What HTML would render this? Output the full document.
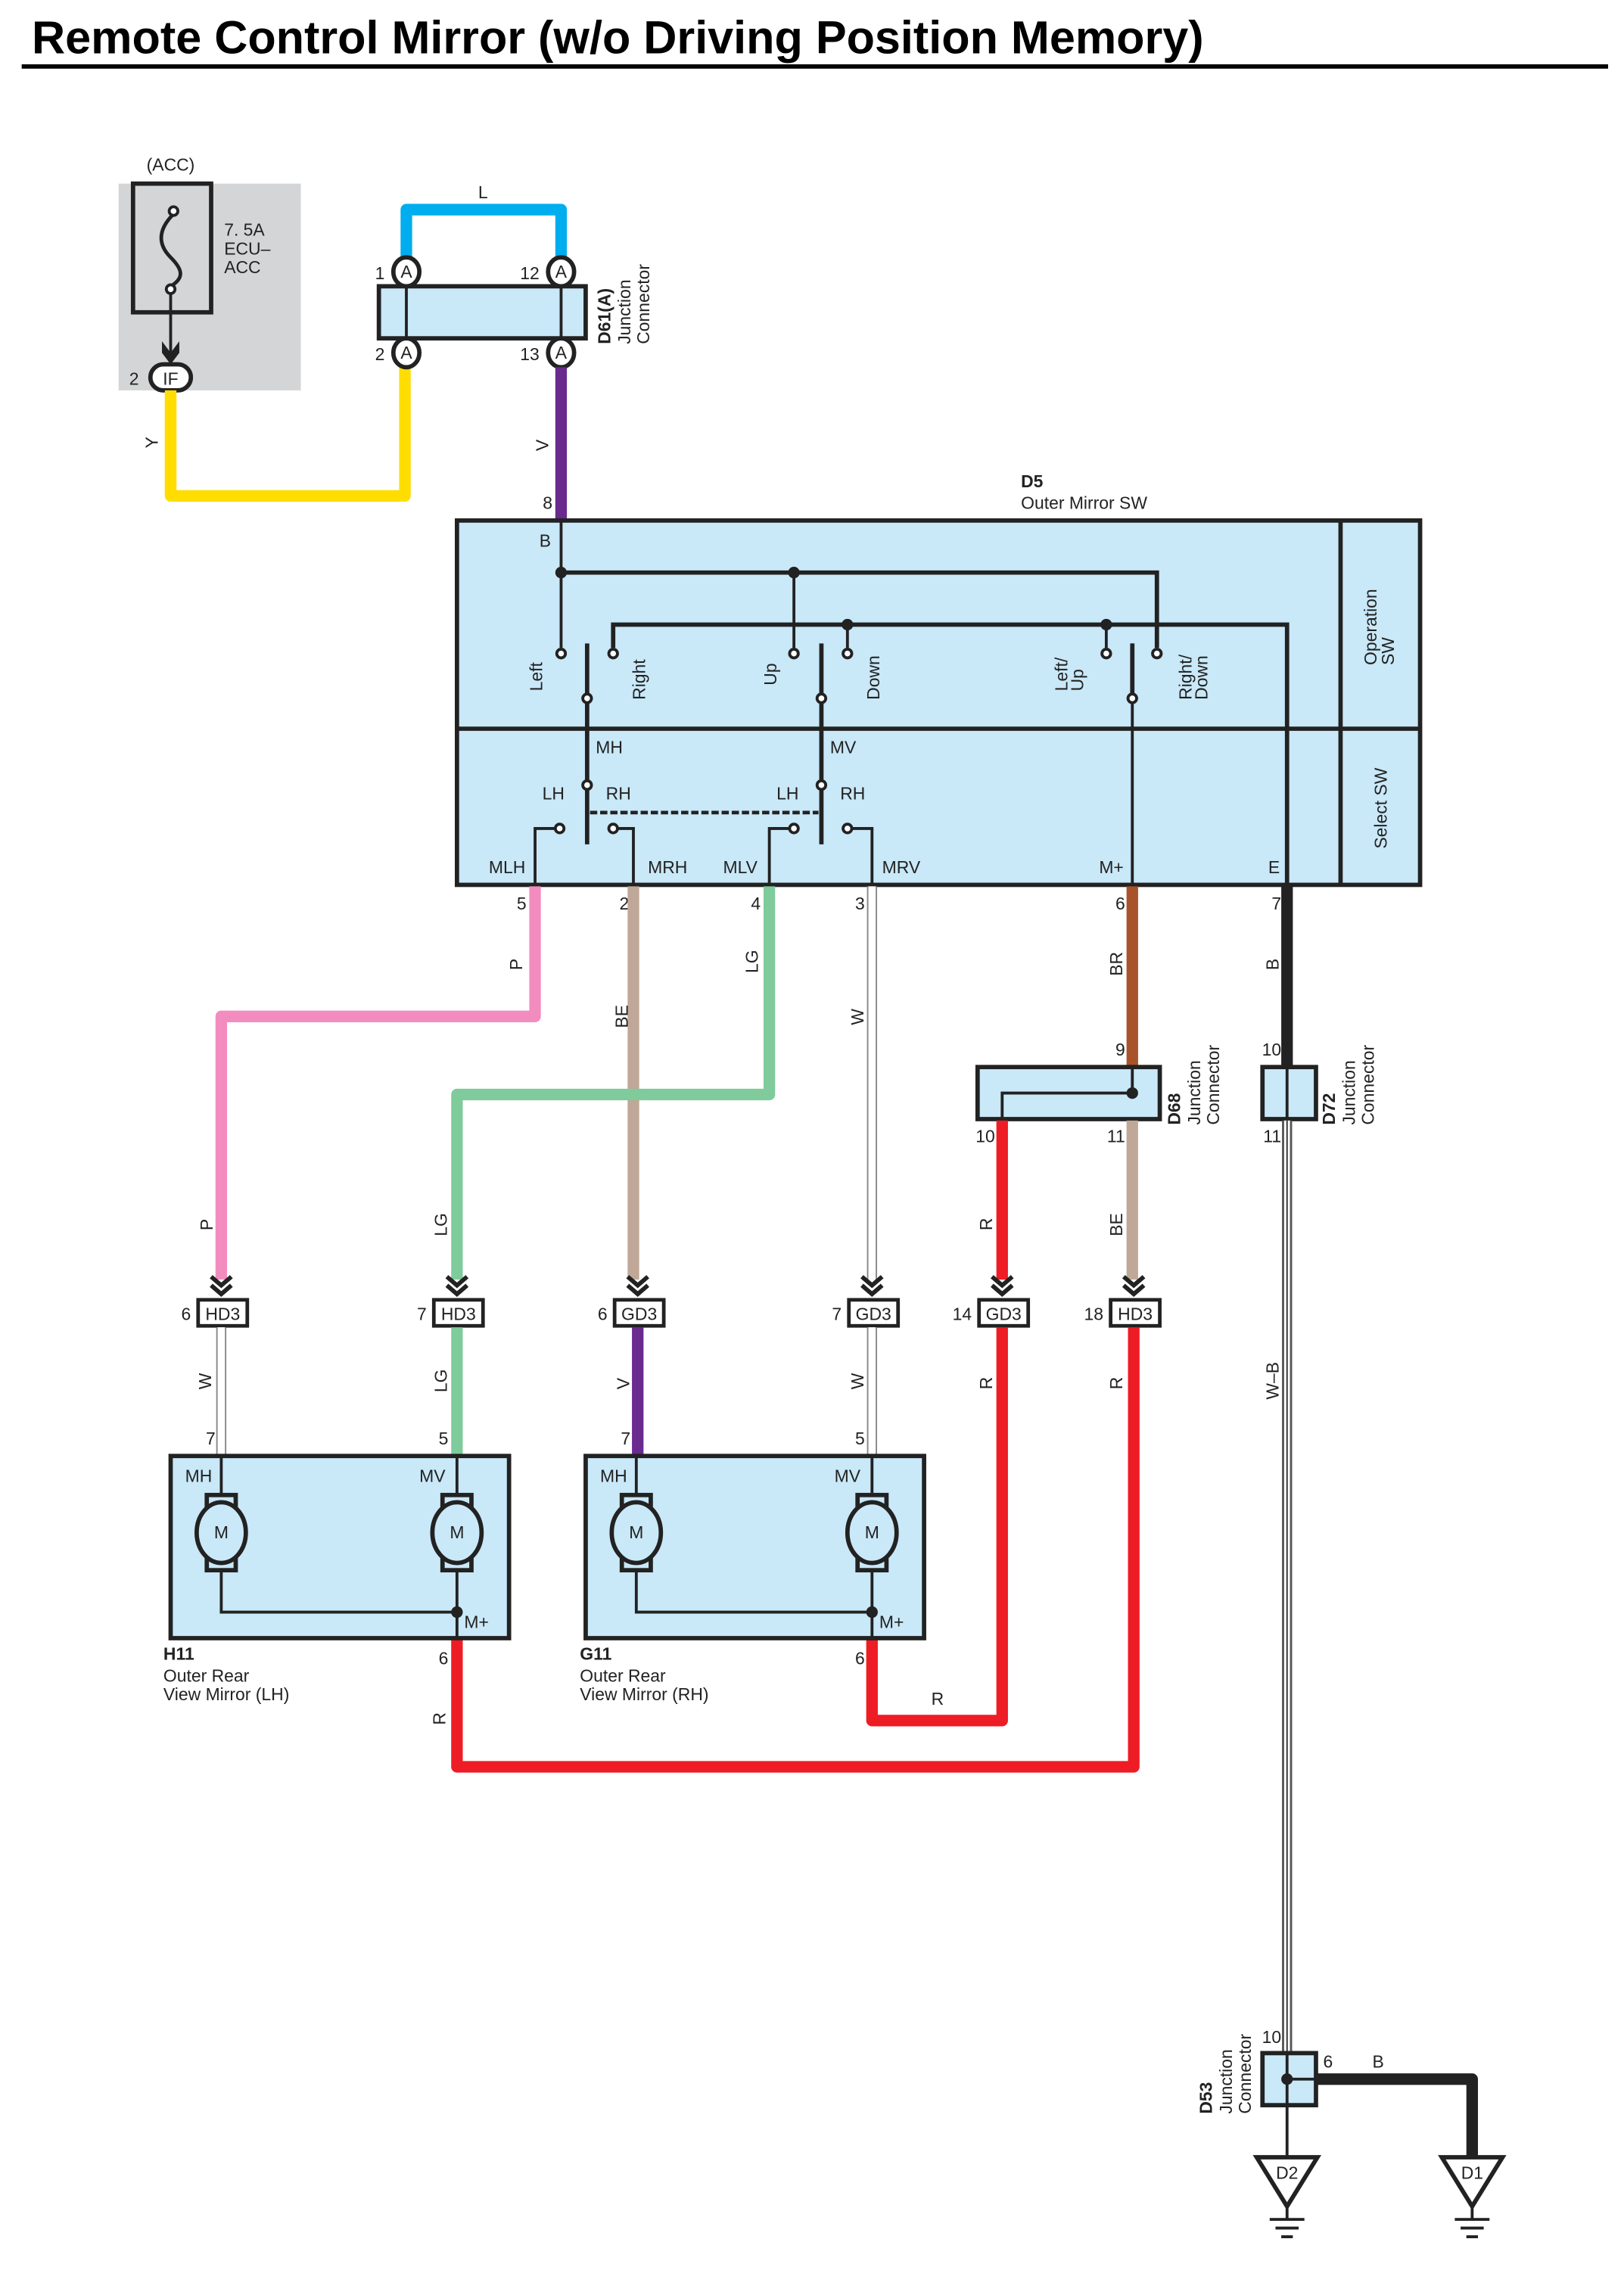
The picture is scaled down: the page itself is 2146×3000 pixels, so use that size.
<!DOCTYPE html>
<html><head><meta charset="utf-8"><style>
html,body{margin:0;padding:0;background:#fff}
svg{display:block}
text{font-family:"Liberation Sans",sans-serif;font-size:12px;fill:#222}
.b{font-weight:bold}
</style></head><body>
<svg width="2146" height="3000" viewBox="0 0 1123 1570" preserveAspectRatio="none" xmlns="http://www.w3.org/2000/svg">
<defs>
<g id="mot">
<rect x="-10" y="-26" width="20" height="10" fill="#c9e8f8" stroke="#222" stroke-width="3"/>
<rect x="-10" y="16" width="20" height="10" fill="#c9e8f8" stroke="#222" stroke-width="3"/>
<ellipse cx="0" cy="0" rx="17" ry="21" fill="#c9e8f8" stroke="#222" stroke-width="3"/>
<text x="0" y="4" text-anchor="middle" font-size="11">M</text>
</g>
<g id="chev"><path d="M-7,-14 L0,-8 L7,-14 M-7,-8 L0,-2 L7,-8" fill="none" stroke="#222" stroke-width="3"/></g>
</defs>
<text x="22" y="37" class="b" style="font-size:32px;fill:#000">Remote Control Mirror (w/o Driving Position Memory)</text>
<line x1="15" y1="46" x2="1112" y2="46" stroke="#000" stroke-width="3"/>

<!-- fuse -->
<rect x="82" y="127" width="126" height="143" fill="#d4d5d7"/>
<rect x="92" y="127" width="54" height="89" fill="none" stroke="#222" stroke-width="3"/>
<text x="118" y="118" text-anchor="middle">(ACC)</text>
<text x="155" y="163">7. 5A</text><text x="155" y="176">ECU–</text><text x="155" y="189">ACC</text>
<path d="M120,148 C108,160 110,170 118,178 C126,186 128,192 118,198" fill="none" stroke="#222" stroke-width="2.5"/>
<circle cx="120" cy="146" r="3" fill="#fff" stroke="#222" stroke-width="2"/>
<circle cx="118" cy="200" r="3" fill="#fff" stroke="#222" stroke-width="2"/>
<line x1="118" y1="203" x2="118" y2="248" stroke="#222" stroke-width="2"/>
<path d="M112,236 L118,244 L124,236 L124,244 L118,252 L112,244Z" fill="#222"/>
<path d="M118,343 L118,270" fill="none" stroke="#ffdd00" stroke-width="8"/>
<rect x="104" y="252" width="28" height="18" rx="9" fill="#fff" stroke="#222" stroke-width="3"/>
<text x="118" y="266" text-anchor="middle">IF</text><text x="96" y="266" text-anchor="end">2</text>
<path d="M118,270 L118,343 L280,343 L280,252" fill="none" stroke="#ffdd00" stroke-width="8" stroke-linejoin="round"/>
<text transform="translate(109,310) rotate(-90)">Y</text>

<!-- D61 -->
<path d="M281,180 L281,145 L388,145 L388,180" fill="none" stroke="#00adef" stroke-width="8" stroke-linejoin="round"/>
<text x="334" y="137" text-anchor="middle">L</text>
<rect x="262" y="198" width="143" height="36" fill="#c9e8f8" stroke="#222" stroke-width="3"/>
<line x1="281" y1="198" x2="281" y2="234" stroke="#222" stroke-width="2"/>
<line x1="388" y1="198" x2="388" y2="234" stroke="#222" stroke-width="2"/>
<g stroke="#222" stroke-width="3" fill="#fff">
<ellipse cx="281" cy="188" rx="9" ry="10"/><ellipse cx="388" cy="188" rx="9" ry="10"/>
<ellipse cx="281" cy="244" rx="9" ry="10"/><ellipse cx="388" cy="244" rx="9" ry="10"/></g>
<g text-anchor="middle" font-size="11"><text x="281" y="192">A</text><text x="388" y="192">A</text><text x="281" y="248">A</text><text x="388" y="248">A</text></g>
<text x="266" y="193" text-anchor="end">1</text><text x="373" y="193" text-anchor="end">12</text>
<text x="266" y="249" text-anchor="end">2</text><text x="373" y="249" text-anchor="end">13</text>
<text transform="translate(422,238) rotate(-90)" class="b">D61(A)</text>
<text transform="translate(436,238) rotate(-90)">Junction</text>
<text transform="translate(449,238) rotate(-90)">Connector</text>
<line x1="388" y1="254" x2="388" y2="361" stroke="#6a2a8e" stroke-width="8"/>
<text transform="translate(379,312) rotate(-90)">V</text>
<text x="382" y="352" text-anchor="end">8</text>

<!-- D5 -->
<text x="706" y="337" class="b">D5</text><text x="706" y="352">Outer Mirror SW</text>
<rect x="316" y="360" width="666" height="252" fill="#c9e8f8" stroke="#222" stroke-width="3"/>
<line x1="927" y1="360" x2="927" y2="612" stroke="#222" stroke-width="3"/>
<line x1="316" y1="504" x2="982" y2="504" stroke="#222" stroke-width="3"/>
<text transform="translate(952,460) rotate(-90)">Operation</text>
<text transform="translate(964,460) rotate(-90)">SW</text>
<text transform="translate(959,587) rotate(-90)">Select SW</text>
<text x="373" y="378">B</text>
<g stroke="#222" stroke-width="2" fill="none">
<path d="M388,360 L388,448"/>
<path d="M388,396 L800,396 L800,448" stroke-width="3"/>
<path d="M549,396 L549,448"/>
<path d="M424,448 L424,432 L890,432 L890,612" stroke-width="3"/>
<path d="M424,432 L424,448"/><path d="M586,432 L586,448"/><path d="M765,432 L765,448"/>
<path d="M406,445 L406,584" stroke-width="3"/>
<path d="M568,445 L568,584" stroke-width="3"/>
<path d="M783,445 L783,612"/>
<path d="M783,445 L783,480" stroke-width="3"/>
<path d="M384,573 L370,573 L370,612" stroke-width="2"/>
<path d="M427,573 L438,573 L438,612"/>
<path d="M546,573 L532,573 L532,612"/>
<path d="M589,573 L603,573 L603,612"/>
<path d="M408,562 L566,562" stroke-dasharray="5,2" stroke-width="2.5"/>
</g>
<g fill="#222"><circle cx="388" cy="396" r="4"/><circle cx="549" cy="396" r="4"/><circle cx="586" cy="432" r="4"/><circle cx="765" cy="432" r="4"/></g>
<g fill="#fff" stroke="#222" stroke-width="2">
<circle cx="388" cy="452" r="3"/><circle cx="424" cy="452" r="3"/><circle cx="549" cy="452" r="3"/><circle cx="586" cy="452" r="3"/><circle cx="765" cy="452" r="3"/><circle cx="800" cy="452" r="3"/>
<circle cx="406" cy="483" r="3"/><circle cx="568" cy="483" r="3"/><circle cx="783" cy="483" r="3"/>
<circle cx="406" cy="543" r="3"/><circle cx="568" cy="543" r="3"/>
<circle cx="387" cy="573" r="3"/><circle cx="424" cy="573" r="3"/><circle cx="549" cy="573" r="3"/><circle cx="586" cy="573" r="3"/></g>
<text transform="translate(375,478) rotate(-90)">Left</text>
<text transform="translate(446,484) rotate(-90)">Right</text>
<text transform="translate(537,474) rotate(-90)">Up</text>
<text transform="translate(608,484) rotate(-90)">Down</text>
<text transform="translate(738,478) rotate(-90)">Left/</text>
<text transform="translate(749,478) rotate(-90)">Up</text>
<text transform="translate(824,484) rotate(-90)">Right/</text>
<text transform="translate(835,484) rotate(-90)">Down</text>
<text x="412" y="521">MH</text><text x="574" y="521">MV</text>
<text x="375" y="553">LH</text><text x="419" y="553">RH</text><text x="537" y="553">LH</text><text x="581" y="553">RH</text>
<text x="338" y="604">MLH</text><text x="448" y="604">MRH</text><text x="500" y="604">MLV</text><text x="610" y="604">MRV</text><text x="760" y="604">M+</text><text x="877" y="604">E</text>

<!-- wires out -->
<g text-anchor="end"><text x="364" y="629">5</text><text x="435" y="629">2</text><text x="526" y="629">4</text><text x="598" y="629">3</text><text x="778" y="629">6</text><text x="886" y="629">7</text>
<text x="778" y="730">9</text><text x="886" y="730">10</text><text x="688" y="790">10</text><text x="778" y="790">11</text><text x="886" y="790">11</text></g>
<path d="M370,613 L370,703 L153,703 L153,885" fill="none" stroke="#f28cbf" stroke-width="8" stroke-linejoin="round"/>
<line x1="438" y1="613" x2="438" y2="885" stroke="#bfa897" stroke-width="8"/>
<path d="M532,613 L532,757 L316,757 L316,885" fill="none" stroke="#7fcb9b" stroke-width="8" stroke-linejoin="round"/>
<line x1="603" y1="613" x2="603" y2="885" stroke="#888" stroke-width="7"/>
<line x1="603" y1="613" x2="603" y2="885" stroke="#fff" stroke-width="5"/>
<line x1="783" y1="613" x2="783" y2="738" stroke="#a9532a" stroke-width="8"/>
<line x1="890" y1="613" x2="890" y2="738" stroke="#222" stroke-width="8"/>
<g>
<text transform="translate(361,671) rotate(-90)">P</text>
<text transform="translate(434,711) rotate(-90)">BE</text>
<text transform="translate(524,673) rotate(-90)">LG</text>
<text transform="translate(597,709) rotate(-90)">W</text>
<text transform="translate(776,675) rotate(-90)">BR</text>
<text transform="translate(884,671) rotate(-90)">B</text>
</g>
<!-- D68 -->
<rect x="676" y="738" width="126" height="36" fill="#c9e8f8" stroke="#222" stroke-width="3"/>
<path d="M783,738 L783,756 L693,756 L693,774" fill="none" stroke="#222" stroke-width="2"/>
<circle cx="783" cy="756" r="4" fill="#222"/>
<text transform="translate(816,778) rotate(-90)" class="b">D68</text>
<text transform="translate(830,778) rotate(-90)">Junction</text>
<text transform="translate(843,778) rotate(-90)">Connector</text>
<!-- D72 -->
<rect x="873" y="738" width="37" height="36" fill="#c9e8f8" stroke="#222" stroke-width="3"/>
<line x1="890" y1="738" x2="890" y2="774" stroke="#222" stroke-width="2"/>
<text transform="translate(923,778) rotate(-90)" class="b">D72</text>
<text transform="translate(937,778) rotate(-90)">Junction</text>
<text transform="translate(950,778) rotate(-90)">Connector</text>
<line x1="890" y1="775" x2="890" y2="1420" stroke="#555" stroke-width="7"/>
<line x1="890" y1="775" x2="890" y2="1420" stroke="#fff" stroke-width="4"/>
<line x1="890" y1="775" x2="890" y2="1420" stroke="#333" stroke-width="1"/>
<text transform="translate(884,968) rotate(-90)">W–B</text>
<line x1="693" y1="775" x2="693" y2="885" stroke="#ee1c25" stroke-width="8"/>
<line x1="783" y1="775" x2="783" y2="885" stroke="#bfa897" stroke-width="8"/>
<text transform="translate(686,851) rotate(-90)">R</text>
<text transform="translate(776,855) rotate(-90)">BE</text>
<text transform="translate(147,851) rotate(-90)">P</text>
<text transform="translate(309,855) rotate(-90)">LG</text>

<!-- connectors -->
<g>
<use href="#chev" x="153" y="897"/><use href="#chev" x="316" y="897"/><use href="#chev" x="441" y="897"/><use href="#chev" x="603" y="897"/><use href="#chev" x="693" y="897"/><use href="#chev" x="784" y="897"/>
</g>
<g fill="#fff" stroke="#222" stroke-width="2.5">
<rect x="137" y="899" width="34" height="18"/><rect x="300" y="899" width="34" height="18"/><rect x="425" y="899" width="34" height="18"/><rect x="587" y="899" width="34" height="18"/><rect x="677" y="899" width="34" height="18"/><rect x="768" y="899" width="34" height="18"/></g>
<g text-anchor="middle"><text x="154" y="913">HD3</text><text x="317" y="913">HD3</text><text x="442" y="913">GD3</text><text x="604" y="913">GD3</text><text x="694" y="913">GD3</text><text x="785" y="913">HD3</text></g>
<g text-anchor="end"><text x="132" y="913">6</text><text x="295" y="913">7</text><text x="420" y="913">6</text><text x="582" y="913">7</text><text x="672" y="913">14</text><text x="763" y="913">18</text></g>

<!-- lower wires -->
<line x1="153" y1="918" x2="153" y2="1007" stroke="#888" stroke-width="7"/><line x1="153" y1="918" x2="153" y2="1007" stroke="#fff" stroke-width="5"/>
<line x1="603" y1="918" x2="603" y2="1007" stroke="#888" stroke-width="7"/><line x1="603" y1="918" x2="603" y2="1007" stroke="#fff" stroke-width="5"/>
<line x1="316" y1="918" x2="316" y2="1007" stroke="#7fcb9b" stroke-width="8"/>
<line x1="441" y1="918" x2="441" y2="1007" stroke="#6a2a8e" stroke-width="8"/>
<path d="M693,918 L693,1190 L603,1190 L603,1134" fill="none" stroke="#ee1c25" stroke-width="8" stroke-linejoin="round"/>
<path d="M784,918 L784,1222 L316,1222 L316,1134" fill="none" stroke="#ee1c25" stroke-width="8" stroke-linejoin="round"/>
<text transform="translate(146,961) rotate(-90)">W</text>
<text transform="translate(309,963) rotate(-90)">LG</text>
<text transform="translate(435,961) rotate(-90)">V</text>
<text transform="translate(597,961) rotate(-90)">W</text>
<text transform="translate(686,961) rotate(-90)">R</text>
<text transform="translate(776,961) rotate(-90)">R</text>
<text transform="translate(308,1193) rotate(-90)">R</text>
<text x="644" y="1179">R</text>
<g text-anchor="end"><text x="149" y="999">7</text><text x="310" y="999">5</text><text x="436" y="999">7</text><text x="598" y="999">5</text><text x="310" y="1151">6</text><text x="598" y="1151">6</text></g>

<!-- mirrors -->
<g id="mir">
<rect x="118" y="1007" width="234" height="126" fill="#c9e8f8" stroke="#222" stroke-width="3"/>
<path d="M153,1007 L153,1115 L316,1115 M316,1007 L316,1133" fill="none" stroke="#222" stroke-width="2"/>
<circle cx="316" cy="1115" r="4" fill="#222"/>
<use href="#mot" x="153" y="1060"/><use href="#mot" x="316" y="1060"/>
<text x="128" y="1025">MH</text><text x="290" y="1025">MV</text><text x="321" y="1126">M+</text>
</g>
<use href="#mir" x="287" y="0"/>
<text x="113" y="1148" class="b">H11</text><text x="113" y="1163">Outer Rear</text><text x="113" y="1176">View Mirror (LH)</text>
<text x="401" y="1148" class="b">G11</text><text x="401" y="1163">Outer Rear</text><text x="401" y="1176">View Mirror (RH)</text>

<!-- D53 -->
<path d="M910,1438 L1018,1438 L1018,1492" fill="none" stroke="#222" stroke-width="8" stroke-linejoin="round"/>
<rect x="873" y="1420" width="37" height="36" fill="#c9e8f8" stroke="#222" stroke-width="3"/>
<path d="M890,1420 L890,1492 M890,1438 L910,1438" stroke="#222" stroke-width="2"/>
<circle cx="890" cy="1438" r="4" fill="#222"/>
<text x="886" y="1413" text-anchor="end">10</text><text x="915" y="1430">6</text><text x="949" y="1430">B</text>
<text transform="translate(838,1462) rotate(-90)" class="b">D53</text>
<text transform="translate(852,1462) rotate(-90)">Junction</text>
<text transform="translate(865,1462) rotate(-90)">Connector</text>
<g id="gnd" stroke="#222" fill="#fff">
<path d="M869,1492 L911,1492 L890,1526Z" stroke-width="3"/>
<path d="M890,1526 L890,1535 M878,1535 L902,1535 M882,1541 L898,1541 M886,1547 L894,1547" stroke-width="2"/>
</g>
<text x="890" y="1507" text-anchor="middle">D2</text>
<use href="#gnd" x="128" y="0"/>
<text x="1018" y="1507" text-anchor="middle">D1</text>
</svg>
</body></html>
